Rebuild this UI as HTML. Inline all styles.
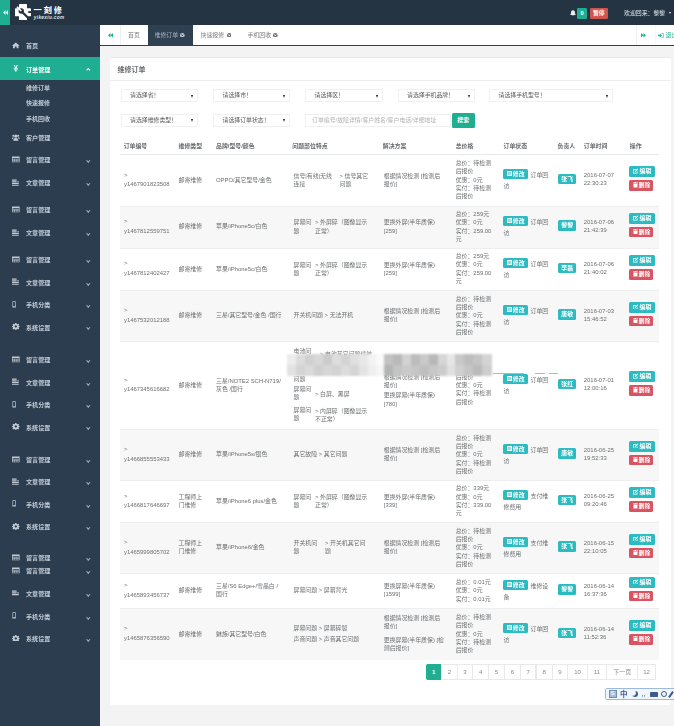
<!DOCTYPE html>
<html lang="zh"><head><meta charset="utf-8"><title>维修订单</title><style>
*{box-sizing:border-box;margin:0;padding:0}
html,body{width:674px;height:726px;overflow:hidden}
body{position:relative;background:#f3f3f4;font-family:"Liberation Sans","Noto Sans CJK SC",sans-serif;font-size:5.9px;line-height:8.35px;color:#6b6e70}
#wrap{position:absolute;left:0;top:0;width:674px;height:726px;overflow:hidden;filter:blur(0.35px)}
.abs{position:absolute}
#top{left:0;top:0;width:674px;height:25px;background:#243442}
#side{left:0;top:25px;width:100px;height:701px;background:#2b3d4f}
#tog{left:0;top:0;width:10px;height:24.5px;background:#1fae91}
#tabs{left:100px;top:25px;width:574px;height:20.5px;background:#fff;border-bottom:1px solid #2f4050}
#card{left:110px;top:57px;width:561px;height:648px;background:#fff;border-top:1px solid #e7eaec;border-radius:2px}
#ttl{left:117.5px;top:64.5px;font-size:7px;font-weight:bold;color:#676a6c;line-height:9px;white-space:nowrap}
#tline{left:110px;top:80px;width:561px;height:1px;background:#eceeef}
.sel{height:13.7px;border:1px solid #eff0f1;border-radius:1px;background:#fff;color:#5a5a5a;padding-left:8.5px;padding-top:0.6px;line-height:11.7px;white-space:nowrap;overflow:hidden}
.sel i{position:absolute;right:3.6px;top:4.9px;width:0;height:0;border-left:1.9px solid transparent;border-right:1.9px solid transparent;border-top:3px solid #222}
.mi{left:0;width:100px;height:23px;color:#c3cbd5;font-weight:bold;font-size:6.1px;line-height:23px;white-space:nowrap}
.mi span{position:absolute;left:26px;top:-0.1px}
.mi>svg{position:absolute;left:12.2px;top:7.6px;width:7.6px;height:6.8px;opacity:.85}
.mi b.ch{position:absolute;left:86.5px;top:10.8px;width:2.6px;height:2.6px;border-right:0.8px solid #aeb8c4;border-bottom:0.8px solid #aeb8c4;transform:rotate(45deg)}
.sub{left:26px;color:#c3cbd5;font-size:6px;font-weight:bold;line-height:8px;white-space:nowrap}
table{border-collapse:collapse}
.th{top:141.8px;font-weight:bold;color:#676a6c;white-space:nowrap}
.row{left:120px;width:539.4px}
.row.g{background:#f7f7f7}
.row{border-top:1px solid #eceeef}
.c{position:absolute;white-space:nowrap}
.btn{position:absolute;color:#fff;font-weight:bold;border-radius:1.5px;text-align:center;white-space:nowrap;line-height:10px;height:10.2px;font-size:5.9px}
.info{background:#2bbbc0}
.dang{background:#da5361}
.pg{top:664px;height:15.5px;border:1px solid #e9e9e9;background:#fff;color:#8a8a8a;text-align:center;line-height:14px;font-size:6px;white-space:nowrap}
</style></head><body>
<div id="wrap">
<div class="abs" id="top"></div>
<div class="abs" id="side"></div>
<div class="abs" id="tog"><svg class="abs" style="left:2.5px;top:10px" width="5" height="5" viewBox="0 0 10 10"><path d="M5 0 L0 5 L5 10 Z M10 0 L5 5 L10 10 Z" fill="#d8f3ec"/></svg></div>
<svg class="abs" style="left:15px;top:3.6px" width="16" height="16.5" viewBox="0 0 32 33"><path d="M9.5 0 H22.5 a1.5 1.5 0 0 1 1.5 1.5 V8.5 H30.5 a1.5 1.5 0 0 1 1.5 1.5 V23 a1.5 1.5 0 0 1 -1.5 1.5 H24 V31.5 a1.5 1.5 0 0 1 -1.5 1.5 H9.5 a1.5 1.5 0 0 1 -1.5 -1.5 V24.5 H1.5 a1.5 1.5 0 0 1 -1.5 -1.5 V10 a1.5 1.5 0 0 1 1.5 -1.5 H8 V1.5 a1.5 1.5 0 0 1 1.5 -1.5 Z" fill="#fff"/><circle cx="12.5" cy="14" r="5.4" fill="#243442"/><path d="M12.5 14 L24 25.5" stroke="#243442" stroke-width="4.6" stroke-linecap="round"/><path d="M12.5 14 L4 5.5" stroke="#fff" stroke-width="3.4"/><rect x="26.5" y="14.2" width="5.5" height="3.8" fill="#243442"/></svg>
<div class="abs lg" style="left:33.6px;top:5.6px;font-size:8.2px;font-weight:bold;color:#fff;letter-spacing:1.9px;line-height:9.5px;white-space:nowrap">一刻修</div>
<div class="abs" style="left:33.8px;top:14.6px;font-size:4.7px;font-weight:bold;font-style:italic;color:#dfe3e8;letter-spacing:0.35px;line-height:5px;white-space:nowrap">yikexiu.com</div>
<svg class="abs" style="left:569.5px;top:9.5px" width="6" height="6.5" viewBox="0 0 12 13"><path d="M6 0.5 C3 0.5 2 3 2 5.5 C2 8 1 9 0 10 H12 C11 9 10 8 10 5.5 C10 3 9 0.5 6 0.5 Z M4.5 11 a1.5 1.5 0 0 0 3 0 Z" fill="#e8ecf0"/></svg>
<div class="abs" style="left:577px;top:8px;width:10px;height:11px;background:#1fae91;border-radius:1.3px;color:#fff;font-weight:bold;font-size:5.6px;line-height:11px;text-align:center">0</div>
<div class="abs" style="left:589.6px;top:8px;width:18.5px;height:11px;background:#d15350;border-radius:1.3px;color:#fff;font-weight:bold;font-size:5.8px;line-height:11px;text-align:center;white-space:nowrap">暂停</div>
<div class="abs" style="left:624px;top:9px;color:#e6eaef;font-size:5.9px;line-height:9px;white-space:nowrap;width:44px;overflow:hidden">欢迎回来：黎黎</div>
<div class="abs" style="left:668.6px;top:12.4px;width:0;height:0;border-left:1.5px solid transparent;border-right:1.5px solid transparent;border-top:2px solid #e6eaef"></div>
<div class="abs" id="tabs"></div>
<svg class="abs" style="left:107.5px;top:33px" width="5" height="4.6" viewBox="0 0 10 9"><path d="M5 0 L0 4.5 L5 9 Z M10 0 L5 4.5 L10 9 Z" fill="#1ab394"/></svg>
<div class="abs" style="left:119.5px;top:25px;width:1px;height:20px;background:#eef0f1"></div>
<div class="abs" style="left:128px;top:31px;color:#7a7d80;line-height:8px;white-space:nowrap;font-size:5.9px">首页</div>
<div class="abs" style="left:147.5px;top:25px;width:45.5px;height:20.5px;background:#2f4050"></div>
<div class="abs" style="left:154.5px;top:31px;color:#a7b1c2;line-height:8px;white-space:nowrap;font-size:5.9px;width:25px;overflow:hidden">维修订单</div>
<svg class="abs" style="left:180.4px;top:32.9px" width="4.6" height="4.6" viewBox="0 0 10 10"><circle cx="5" cy="5" r="5" fill="#c5ccd6"/><path d="M3 3 L7 7 M7 3 L3 7" stroke="#2f4050" stroke-width="1.7"/></svg>
<div class="abs" style="left:200.5px;top:31px;color:#7a7d80;line-height:8px;white-space:nowrap;font-size:5.9px;width:25px;overflow:hidden">快速报修</div>
<svg class="abs" style="left:226.6px;top:32.9px" width="4.6" height="4.6" viewBox="0 0 10 10"><circle cx="5" cy="5" r="5" fill="#6f6f6f"/><path d="M3 3 L7 7 M7 3 L3 7" stroke="#fff" stroke-width="1.7"/></svg>
<div class="abs" style="left:247.5px;top:31px;color:#7a7d80;line-height:8px;white-space:nowrap;font-size:5.9px;width:25px;overflow:hidden">手机回收</div>
<svg class="abs" style="left:273.3px;top:32.9px" width="4.6" height="4.6" viewBox="0 0 10 10"><circle cx="5" cy="5" r="5" fill="#6f6f6f"/><path d="M3 3 L7 7 M7 3 L3 7" stroke="#fff" stroke-width="1.7"/></svg>
<div class="abs" style="left:635.5px;top:25px;width:1px;height:20px;background:#eef0f1"></div>
<svg class="abs" style="left:640.5px;top:33px" width="5" height="4.6" viewBox="0 0 10 9"><path d="M0 0 L5 4.5 L0 9 Z M5 0 L10 4.5 L5 9 Z" fill="#1ab394"/></svg>
<div class="abs" style="left:654.5px;top:25px;width:1px;height:20px;background:#f6f7f8"></div>
<svg class="abs" style="left:658px;top:33px" width="5.5" height="5" viewBox="0 0 11 10"><path d="M0 3.5 H4 V1 L8 5 L4 9 V6.5 H0 Z M7 0 H11 V10 H7 V8.8 H9.8 V1.2 H7 Z" fill="#1ab394"/></svg>
<div class="abs" style="left:665.5px;top:31px;color:#1ab394;line-height:8px;white-space:nowrap;font-size:5.9px">退出</div>
<div class="abs mi" style="top:34.5px;"><svg viewBox="0 0 18 16"><path d="M9 1 L0 9 H2.5 V15 H7 V10.5 H11 V15 H15.5 V9 H18 Z" fill="#dfe4ea"/></svg><span>首页</span></div>
<div class="abs mi" style="top:57.2px;background:#1fae91;color:#fff;"><svg viewBox="0 0 18 16"><path d="M4 0 H7 L9 5 L11 0 H14 L11 7 H14 V9 H10.5 V10.5 H14 V12.5 H10.5 V16 H7.5 V12.5 H4 V10.5 H7.5 V9 H4 V7 H7 Z" fill="#fff"/></svg><span style="top:0.5px">订单管理</span><b class="ch" style="transform:rotate(-135deg);top:11.5px;border-color:#fff"></b></div>
<div class="abs sub" style="top:84.0px">维修订单</div>
<div class="abs sub" style="top:99.4px">快速报修</div>
<div class="abs sub" style="top:115.0px">手机回收</div>
<div class="abs mi" style="top:126.5px;"><svg viewBox="0 0 18 16"><circle cx="9" cy="5" r="3.6" fill="#dfe4ea"/><circle cx="3.2" cy="4" r="2.4" fill="#dfe4ea"/><circle cx="14.8" cy="4" r="2.4" fill="#dfe4ea"/><path d="M3 16 C3 11 5 9.5 9 9.5 C13 9.5 15 11 15 16 Z M0 12 C0 8 1.5 7 4 7.5 C3 9 2.5 10 2.5 12 Z M18 12 C18 8 16.5 7 14 7.5 C15 9 15.5 10 15.5 12 Z" fill="#dfe4ea"/></svg><span>客户管理</span></div>
<div class="abs mi" style="top:148.5px;"><svg viewBox="0 0 18 16"><path d="M0 1 H18 V15 H0 Z M1.5 5 V7.5 H16.5 V5 Z M1.5 9 V10.8 H5.5 V9 Z M7 9 V10.8 H11 V9 Z M12.5 9 V10.8 H16.5 V9 Z M1.5 12 V13.5 H5.5 V12 Z M7 12 V13.5 H11 V12 Z M12.5 12 V13.5 H16.5 V12 Z" fill="#dfe4ea" fill-rule="evenodd"/></svg><span>留言管理</span><b class="ch"></b></div>
<div class="abs mi" style="top:171.2px;"><svg viewBox="0 0 18 16"><path d="M0 1 H11 V4 H0 Z M0 5.5 H11 V8 H0 Z M0 9.5 H16 V12 H0 Z M0 13.5 H16 V16 H0 Z M12.5 5.5 H16 V8 H12.5 Z" fill="#dfe4ea"/></svg><span>文章管理</span><b class="ch"></b></div>
<div class="abs mi" style="top:198.5px;"><svg viewBox="0 0 18 16"><path d="M0 1 H18 V15 H0 Z M1.5 5 V7.5 H16.5 V5 Z M1.5 9 V10.8 H5.5 V9 Z M7 9 V10.8 H11 V9 Z M12.5 9 V10.8 H16.5 V9 Z M1.5 12 V13.5 H5.5 V12 Z M7 12 V13.5 H11 V12 Z M12.5 12 V13.5 H16.5 V12 Z" fill="#dfe4ea" fill-rule="evenodd"/></svg><span>留言管理</span><b class="ch"></b></div>
<div class="abs mi" style="top:221.5px;"><svg viewBox="0 0 18 16"><path d="M0 1 H11 V4 H0 Z M0 5.5 H11 V8 H0 Z M0 9.5 H16 V12 H0 Z M0 13.5 H16 V16 H0 Z M12.5 5.5 H16 V8 H12.5 Z" fill="#dfe4ea"/></svg><span>文章管理</span><b class="ch"></b></div>
<div class="abs mi" style="top:248.5px;"><svg viewBox="0 0 18 16"><path d="M0 1 H18 V15 H0 Z M1.5 5 V7.5 H16.5 V5 Z M1.5 9 V10.8 H5.5 V9 Z M7 9 V10.8 H11 V9 Z M12.5 9 V10.8 H16.5 V9 Z M1.5 12 V13.5 H5.5 V12 Z M7 12 V13.5 H11 V12 Z M12.5 12 V13.5 H16.5 V12 Z" fill="#dfe4ea" fill-rule="evenodd"/></svg><span>留言管理</span><b class="ch"></b></div>
<div class="abs mi" style="top:270.9px;"><svg viewBox="0 0 18 16"><path d="M0 1 H11 V4 H0 Z M0 5.5 H11 V8 H0 Z M0 9.5 H16 V12 H0 Z M0 13.5 H16 V16 H0 Z M12.5 5.5 H16 V8 H12.5 Z" fill="#dfe4ea"/></svg><span>文章管理</span><b class="ch"></b></div>
<div class="abs mi" style="top:293.3px;"><svg viewBox="0 0 18 16"><path d="M2 0.5 H8 a1 1 0 0 1 1 1 V14.5 a1 1 0 0 1 -1 1 H2 a1 1 0 0 1 -1 -1 V1.5 a1 1 0 0 1 1 -1 Z M2.6 2.5 V12.5 H7.4 V2.5 Z" fill="#dfe4ea" fill-rule="evenodd"/></svg><span>手机分类</span><b class="ch"></b></div>
<div class="abs mi" style="top:315.7px;"><svg viewBox="0 0 18 16"><path d="M7.5 0 H10.5 L11 2.2 L12.8 3 L14.8 1.8 L16.8 4 L15.5 5.8 L16 7 L18 7.5 V9.5 L16 10 L15.5 11.2 L16.8 13 L14.8 15.2 L12.8 14 L11 14.8 L10.5 16 H7.5 L7 14.8 L5.2 14 L3.2 15.2 L1.2 13 L2.5 11.2 L2 10 L0 9.5 V7.5 L2 7 L2.5 5.8 L1.2 4 L3.2 1.8 L5.2 3 L7 2.2 Z M9 5.2 a2.8 2.8 0 1 0 0.01 0 Z" fill="#dfe4ea" fill-rule="evenodd"/></svg><span>系统设置</span><b class="ch"></b></div>
<div class="abs mi" style="top:348.5px;"><svg viewBox="0 0 18 16"><path d="M0 1 H18 V15 H0 Z M1.5 5 V7.5 H16.5 V5 Z M1.5 9 V10.8 H5.5 V9 Z M7 9 V10.8 H11 V9 Z M12.5 9 V10.8 H16.5 V9 Z M1.5 12 V13.5 H5.5 V12 Z M7 12 V13.5 H11 V12 Z M12.5 12 V13.5 H16.5 V12 Z" fill="#dfe4ea" fill-rule="evenodd"/></svg><span>留言管理</span><b class="ch"></b></div>
<div class="abs mi" style="top:370.9px;"><svg viewBox="0 0 18 16"><path d="M0 1 H11 V4 H0 Z M0 5.5 H11 V8 H0 Z M0 9.5 H16 V12 H0 Z M0 13.5 H16 V16 H0 Z M12.5 5.5 H16 V8 H12.5 Z" fill="#dfe4ea"/></svg><span>文章管理</span><b class="ch"></b></div>
<div class="abs mi" style="top:393.3px;"><svg viewBox="0 0 18 16"><path d="M2 0.5 H8 a1 1 0 0 1 1 1 V14.5 a1 1 0 0 1 -1 1 H2 a1 1 0 0 1 -1 -1 V1.5 a1 1 0 0 1 1 -1 Z M2.6 2.5 V12.5 H7.4 V2.5 Z" fill="#dfe4ea" fill-rule="evenodd"/></svg><span>手机分类</span><b class="ch"></b></div>
<div class="abs mi" style="top:415.7px;"><svg viewBox="0 0 18 16"><path d="M7.5 0 H10.5 L11 2.2 L12.8 3 L14.8 1.8 L16.8 4 L15.5 5.8 L16 7 L18 7.5 V9.5 L16 10 L15.5 11.2 L16.8 13 L14.8 15.2 L12.8 14 L11 14.8 L10.5 16 H7.5 L7 14.8 L5.2 14 L3.2 15.2 L1.2 13 L2.5 11.2 L2 10 L0 9.5 V7.5 L2 7 L2.5 5.8 L1.2 4 L3.2 1.8 L5.2 3 L7 2.2 Z M9 5.2 a2.8 2.8 0 1 0 0.01 0 Z" fill="#dfe4ea" fill-rule="evenodd"/></svg><span>系统设置</span><b class="ch"></b></div>
<div class="abs mi" style="top:448.2px;"><svg viewBox="0 0 18 16"><path d="M0 1 H18 V15 H0 Z M1.5 5 V7.5 H16.5 V5 Z M1.5 9 V10.8 H5.5 V9 Z M7 9 V10.8 H11 V9 Z M12.5 9 V10.8 H16.5 V9 Z M1.5 12 V13.5 H5.5 V12 Z M7 12 V13.5 H11 V12 Z M12.5 12 V13.5 H16.5 V12 Z" fill="#dfe4ea" fill-rule="evenodd"/></svg><span>留言管理</span><b class="ch"></b></div>
<div class="abs mi" style="top:470.5px;"><svg viewBox="0 0 18 16"><path d="M0 1 H11 V4 H0 Z M0 5.5 H11 V8 H0 Z M0 9.5 H16 V12 H0 Z M0 13.5 H16 V16 H0 Z M12.5 5.5 H16 V8 H12.5 Z" fill="#dfe4ea"/></svg><span>文章管理</span><b class="ch"></b></div>
<div class="abs mi" style="top:492.9px;"><svg viewBox="0 0 18 16"><path d="M2 0.5 H8 a1 1 0 0 1 1 1 V14.5 a1 1 0 0 1 -1 1 H2 a1 1 0 0 1 -1 -1 V1.5 a1 1 0 0 1 1 -1 Z M2.6 2.5 V12.5 H7.4 V2.5 Z" fill="#dfe4ea" fill-rule="evenodd"/></svg><span>手机分类</span><b class="ch"></b></div>
<div class="abs mi" style="top:515.3px;"><svg viewBox="0 0 18 16"><path d="M7.5 0 H10.5 L11 2.2 L12.8 3 L14.8 1.8 L16.8 4 L15.5 5.8 L16 7 L18 7.5 V9.5 L16 10 L15.5 11.2 L16.8 13 L14.8 15.2 L12.8 14 L11 14.8 L10.5 16 H7.5 L7 14.8 L5.2 14 L3.2 15.2 L1.2 13 L2.5 11.2 L2 10 L0 9.5 V7.5 L2 7 L2.5 5.8 L1.2 4 L3.2 1.8 L5.2 3 L7 2.2 Z M9 5.2 a2.8 2.8 0 1 0 0.01 0 Z" fill="#dfe4ea" fill-rule="evenodd"/></svg><span>系统设置</span><b class="ch"></b></div>
<div class="abs mi" style="top:559.3px;"><svg viewBox="0 0 18 16"><path d="M0 1 H18 V15 H0 Z M1.5 5 V7.5 H16.5 V5 Z M1.5 9 V10.8 H5.5 V9 Z M7 9 V10.8 H11 V9 Z M12.5 9 V10.8 H16.5 V9 Z M1.5 12 V13.5 H5.5 V12 Z M7 12 V13.5 H11 V12 Z M12.5 12 V13.5 H16.5 V12 Z" fill="#dfe4ea" fill-rule="evenodd"/></svg><span>留言管理</span><b class="ch"></b></div>
<div class="abs mi" style="top:582.1px;"><svg viewBox="0 0 18 16"><path d="M0 1 H11 V4 H0 Z M0 5.5 H11 V8 H0 Z M0 9.5 H16 V12 H0 Z M0 13.5 H16 V16 H0 Z M12.5 5.5 H16 V8 H12.5 Z" fill="#dfe4ea"/></svg><span>文章管理</span><b class="ch"></b></div>
<div class="abs mi" style="top:604.8px;"><svg viewBox="0 0 18 16"><path d="M2 0.5 H8 a1 1 0 0 1 1 1 V14.5 a1 1 0 0 1 -1 1 H2 a1 1 0 0 1 -1 -1 V1.5 a1 1 0 0 1 1 -1 Z M2.6 2.5 V12.5 H7.4 V2.5 Z" fill="#dfe4ea" fill-rule="evenodd"/></svg><span>手机分类</span><b class="ch"></b></div>
<div class="abs mi" style="top:627.1px;"><svg viewBox="0 0 18 16"><path d="M7.5 0 H10.5 L11 2.2 L12.8 3 L14.8 1.8 L16.8 4 L15.5 5.8 L16 7 L18 7.5 V9.5 L16 10 L15.5 11.2 L16.8 13 L14.8 15.2 L12.8 14 L11 14.8 L10.5 16 H7.5 L7 14.8 L5.2 14 L3.2 15.2 L1.2 13 L2.5 11.2 L2 10 L0 9.5 V7.5 L2 7 L2.5 5.8 L1.2 4 L3.2 1.8 L5.2 3 L7 2.2 Z M9 5.2 a2.8 2.8 0 1 0 0.01 0 Z" fill="#dfe4ea" fill-rule="evenodd"/></svg><span>系统设置</span><b class="ch"></b></div>
<div class="abs" style="left:0;top:553px;width:100px;height:8.5px;overflow:hidden"><div class="abs mi" style="top:-6.5px"><svg viewBox="0 0 18 16"><path d="M0 1 H18 V15 H0 Z M1.5 5 V7.5 H16.5 V5 Z M1.5 9 V10.8 H5.5 V9 Z M7 9 V10.8 H11 V9 Z M12.5 9 V10.8 H16.5 V9 Z M1.5 12 V13.5 H5.5 V12 Z M7 12 V13.5 H11 V12 Z M12.5 12 V13.5 H16.5 V12 Z" fill="#dfe4ea" fill-rule="evenodd"/></svg><span>留言管理</span><b class="ch"></b></div></div>
<div class="abs" id="card"></div>
<div class="abs" id="ttl">维修订单</div>
<div class="abs" id="tline"></div>
<div class="abs sel" style="left:120.5px;top:88.8px;width:77.0px">请选择省！<i></i></div>
<div class="abs sel" style="left:213.0px;top:88.8px;width:77.0px">请选择市！<i></i></div>
<div class="abs sel" style="left:305.0px;top:88.8px;width:77.5px">请选择区！<i></i></div>
<div class="abs sel" style="left:397.5px;top:88.8px;width:77.5px">请选择手机品牌！<i></i></div>
<div class="abs sel" style="left:489.0px;top:88.8px;width:124.0px">请选择手机型号！<i></i></div>
<div class="abs sel" style="left:120.5px;top:113.6px;width:77.0px">请选择维修类型！<i></i></div>
<div class="abs sel" style="left:213.0px;top:113.6px;width:77.0px">请选择订单状态！<i></i></div>
<div class="abs" style="left:305px;top:113.6px;width:146px;height:13.7px;border:1px solid #eff0f1;color:#b3b3b3;padding-left:6px;padding-top:0.6px;line-height:11.7px;white-space:nowrap;overflow:hidden">订单编号/故障详情/客户姓名/客户电话/详细地址</div>
<div class="abs" style="left:452px;top:113.2px;width:22.5px;height:14.4px;background:#1fae91;border-radius:1.5px;color:#fff;font-weight:bold;text-align:center;line-height:14.4px;white-space:nowrap">搜索</div>
<div class="abs th" style="left:123.7px">订单编号</div>
<div class="abs th" style="left:178.6px">维修类型</div>
<div class="abs th" style="left:216.0px">品牌/型号/颜色</div>
<div class="abs th" style="left:292.3px">问题部位特点</div>
<div class="abs th" style="left:382.8px">解决方案</div>
<div class="abs th" style="left:455.7px">总价格</div>
<div class="abs th" style="left:503.5px">订单状态</div>
<div class="abs th" style="left:557.6px">负责人</div>
<div class="abs th" style="left:583.8px">订单时间</div>
<div class="abs th" style="left:629.8px">操作</div>
<div class="abs" style="left:120px;top:153.6px;width:539.4px;height:1px;background:#e6e8ea"></div>
<div class="abs row" style="top:154.5px;height:51.0px;border-top:0"></div>
<div class="abs c" style="left:124.0px;top:170.62px;">&gt;</div>
<div class="abs c" style="left:124.0px;top:180.42px;">y1467901823508</div>
<div class="abs c" style="left:178.6px;top:175.82px;">邮寄维修</div>
<div class="abs c" style="left:216.0px;top:175.82px;">OPPO/其它型号/金色</div>
<div class="abs c" style="left:293.5px;top:171.65px;">信号|有线|无线<br>连接</div>
<div class="abs c" style="left:339.5px;top:171.65px;">&gt; 信号其它<br>问题</div>
<div class="abs c" style="left:383.8px;top:171.65px;">根据情况检测 [检测后<br>报价]</div>
<div class="abs c" style="left:455.7px;top:159.12px;">总价：待检测<br>后报价<br>优惠：0元<br>实付：待检测<br>后报价</div>
<div class="btn info" style="left:503.2px;top:169.1px;width:25px"><svg style="display:inline-block;vertical-align:-0.4px;margin-right:1px" width="5" height="5" viewBox="0 0 10 10"><path d="M0 0 H10 V10 H0 Z M1.3 3 V4.4 H8.7 V3 Z M1.3 5.6 V7 H8.7 V5.6 Z" fill="#fff" fill-rule="evenodd"/></svg>修改</div>
<div class="abs c" style="left:530.5px;top:171.1px">订单回</div>
<div class="abs c" style="left:503.5px;top:182.3px">访</div>
<div class="btn info" style="left:558.2px;top:173.8px;width:18px;height:10.6px;line-height:10.4px">张飞</div>
<div class="abs c" style="left:583.8px;top:171.15px;">2016-07-07<br>22:30:23</div>
<div class="btn info" style="left:629.4px;top:166.4px;width:25.6px;height:10.8px;line-height:10.6px"><svg style="display:inline-block;vertical-align:-0.5px;margin-right:1px" width="5.5" height="5.5" viewBox="0 0 11 11"><path d="M0 2 H6 V3.3 H1.3 V9.7 H7.7 V6.5 H9 V11 H0 Z M4 6 L9 1 L10.5 2.5 L5.5 7.5 L3.6 7.9 Z" fill="#fff"/></svg>编辑</div>
<div class="btn dang" style="left:629.4px;top:180.1px;width:24px;height:10.8px;line-height:10.6px"><svg style="display:inline-block;vertical-align:-0.5px;margin-right:1px" width="5" height="5.5" viewBox="0 0 10 11"><path d="M3.5 0 H6.5 V1.2 H10 V2.6 H0 V1.2 H3.5 Z M1 3.5 H9 V11 H1 Z" fill="#fff"/></svg>删除</div>
<div class="abs row g" style="top:205.5px;height:42.2px"></div>
<div class="abs c" style="left:124.0px;top:217.22px;">&gt;</div>
<div class="abs c" style="left:124.0px;top:227.02px;">y1467812559751</div>
<div class="abs c" style="left:178.6px;top:222.42px;">邮寄维修</div>
<div class="abs c" style="left:216.0px;top:222.42px;">苹果/iPhone5c/白色</div>
<div class="abs c" style="left:293.5px;top:218.25px;">屏幕问<br>题</div>
<div class="abs c" style="left:315.0px;top:218.25px;">&gt; 外屏碎（图像显示<br>正常）</div>
<div class="abs c" style="left:383.8px;top:218.25px;">更换外屏(半年质保)<br>[259]</div>
<div class="abs c" style="left:455.7px;top:209.90px;">总价：259元<br>优惠：0元<br>实付：259.00<br>元</div>
<div class="btn info" style="left:503.2px;top:215.7px;width:25px"><svg style="display:inline-block;vertical-align:-0.4px;margin-right:1px" width="5" height="5" viewBox="0 0 10 10"><path d="M0 0 H10 V10 H0 Z M1.3 3 V4.4 H8.7 V3 Z M1.3 5.6 V7 H8.7 V5.6 Z" fill="#fff" fill-rule="evenodd"/></svg>修改</div>
<div class="abs c" style="left:530.5px;top:217.7px">订单回</div>
<div class="abs c" style="left:503.5px;top:228.9px">访</div>
<div class="btn info" style="left:558.2px;top:220.4px;width:18px;height:10.6px;line-height:10.4px">黎黎</div>
<div class="abs c" style="left:583.8px;top:217.75px;">2016-07-06<br>21:42:39</div>
<div class="btn info" style="left:629.4px;top:213.0px;width:25.6px;height:10.8px;line-height:10.6px"><svg style="display:inline-block;vertical-align:-0.5px;margin-right:1px" width="5.5" height="5.5" viewBox="0 0 11 11"><path d="M0 2 H6 V3.3 H1.3 V9.7 H7.7 V6.5 H9 V11 H0 Z M4 6 L9 1 L10.5 2.5 L5.5 7.5 L3.6 7.9 Z" fill="#fff"/></svg>编辑</div>
<div class="btn dang" style="left:629.4px;top:226.7px;width:24px;height:10.8px;line-height:10.6px"><svg style="display:inline-block;vertical-align:-0.5px;margin-right:1px" width="5" height="5.5" viewBox="0 0 10 11"><path d="M3.5 0 H6.5 V1.2 H10 V2.6 H0 V1.2 H3.5 Z M1 3.5 H9 V11 H1 Z" fill="#fff"/></svg>删除</div>
<div class="abs row" style="top:247.7px;height:42.3px"></div>
<div class="abs c" style="left:124.0px;top:259.48px;">&gt;</div>
<div class="abs c" style="left:124.0px;top:269.28px;">y1467812402427</div>
<div class="abs c" style="left:178.6px;top:264.68px;">邮寄维修</div>
<div class="abs c" style="left:216.0px;top:264.68px;">苹果/iPhone5c/白色</div>
<div class="abs c" style="left:293.5px;top:260.50px;">屏幕问<br>题</div>
<div class="abs c" style="left:315.0px;top:260.50px;">&gt; 外屏碎（图像显示<br>正常）</div>
<div class="abs c" style="left:383.8px;top:260.50px;">更换外屏(半年质保)<br>[259]</div>
<div class="abs c" style="left:455.7px;top:252.15px;">总价：259元<br>优惠：0元<br>实付：259.00<br>元</div>
<div class="btn info" style="left:503.2px;top:258.0px;width:25px"><svg style="display:inline-block;vertical-align:-0.4px;margin-right:1px" width="5" height="5" viewBox="0 0 10 10"><path d="M0 0 H10 V10 H0 Z M1.3 3 V4.4 H8.7 V3 Z M1.3 5.6 V7 H8.7 V5.6 Z" fill="#fff" fill-rule="evenodd"/></svg>修改</div>
<div class="abs c" style="left:530.5px;top:260.0px">订单回</div>
<div class="abs c" style="left:503.5px;top:271.2px">访</div>
<div class="btn info" style="left:558.2px;top:262.7px;width:18px;height:10.6px;line-height:10.4px">李磊</div>
<div class="abs c" style="left:583.8px;top:260.00px;">2016-07-06<br>21:40:02</div>
<div class="btn info" style="left:629.4px;top:255.3px;width:25.6px;height:10.8px;line-height:10.6px"><svg style="display:inline-block;vertical-align:-0.5px;margin-right:1px" width="5.5" height="5.5" viewBox="0 0 11 11"><path d="M0 2 H6 V3.3 H1.3 V9.7 H7.7 V6.5 H9 V11 H0 Z M4 6 L9 1 L10.5 2.5 L5.5 7.5 L3.6 7.9 Z" fill="#fff"/></svg>编辑</div>
<div class="btn dang" style="left:629.4px;top:269.0px;width:24px;height:10.8px;line-height:10.6px"><svg style="display:inline-block;vertical-align:-0.5px;margin-right:1px" width="5" height="5.5" viewBox="0 0 10 11"><path d="M3.5 0 H6.5 V1.2 H10 V2.6 H0 V1.2 H3.5 Z M1 3.5 H9 V11 H1 Z" fill="#fff"/></svg>删除</div>
<div class="abs row g" style="top:290.0px;height:51.0px"></div>
<div class="abs c" style="left:124.0px;top:306.12px;">&gt;</div>
<div class="abs c" style="left:124.0px;top:315.93px;">y1467532012188</div>
<div class="abs c" style="left:178.6px;top:311.32px;">邮寄维修</div>
<div class="abs c" style="left:216.0px;top:311.32px;">三星/其它型号/金色 /国行</div>
<div class="abs c" style="left:293.5px;top:311.32px;">开关机问题 &gt; 无法开机</div>
<div class="abs c" style="left:383.8px;top:307.15px;">根据情况检测 [检测后<br>报价]</div>
<div class="abs c" style="left:455.7px;top:294.62px;">总价：待检测<br>后报价<br>优惠：0元<br>实付：待检测<br>后报价</div>
<div class="btn info" style="left:503.2px;top:304.6px;width:25px"><svg style="display:inline-block;vertical-align:-0.4px;margin-right:1px" width="5" height="5" viewBox="0 0 10 10"><path d="M0 0 H10 V10 H0 Z M1.3 3 V4.4 H8.7 V3 Z M1.3 5.6 V7 H8.7 V5.6 Z" fill="#fff" fill-rule="evenodd"/></svg>修改</div>
<div class="abs c" style="left:530.5px;top:306.6px">订单回</div>
<div class="abs c" style="left:503.5px;top:317.8px">访</div>
<div class="btn info" style="left:558.2px;top:309.3px;width:18px;height:10.6px;line-height:10.4px">唐敏</div>
<div class="abs c" style="left:583.8px;top:306.65px;">2016-07-03<br>15:46:52</div>
<div class="btn info" style="left:629.4px;top:301.9px;width:25.6px;height:10.8px;line-height:10.6px"><svg style="display:inline-block;vertical-align:-0.5px;margin-right:1px" width="5.5" height="5.5" viewBox="0 0 11 11"><path d="M0 2 H6 V3.3 H1.3 V9.7 H7.7 V6.5 H9 V11 H0 Z M4 6 L9 1 L10.5 2.5 L5.5 7.5 L3.6 7.9 Z" fill="#fff"/></svg>编辑</div>
<div class="btn dang" style="left:629.4px;top:315.6px;width:24px;height:10.8px;line-height:10.6px"><svg style="display:inline-block;vertical-align:-0.5px;margin-right:1px" width="5" height="5.5" viewBox="0 0 10 11"><path d="M3.5 0 H6.5 V1.2 H10 V2.6 H0 V1.2 H3.5 Z M1 3.5 H9 V11 H1 Z" fill="#fff"/></svg>删除</div>
<div class="abs row" style="top:341.0px;height:88.0px"></div>
<div class="abs c" style="left:124.0px;top:375.62px;">&gt;</div>
<div class="abs c" style="left:124.0px;top:385.43px;">y1467345616682</div>
<div class="abs c" style="left:178.6px;top:380.82px;">邮寄维修</div>
<div class="abs c" style="left:216.0px;top:376.65px;">三星/NOTE2 SCH-N719/<br>灰色 /国行</div>
<div class="btn info" style="left:503.2px;top:374.1px;width:25px"><svg style="display:inline-block;vertical-align:-0.4px;margin-right:1px" width="5" height="5" viewBox="0 0 10 10"><path d="M0 0 H10 V10 H0 Z M1.3 3 V4.4 H8.7 V3 Z M1.3 5.6 V7 H8.7 V5.6 Z" fill="#fff" fill-rule="evenodd"/></svg>修改</div>
<div class="abs c" style="left:530.5px;top:376.1px">订单回</div>
<div class="abs c" style="left:503.5px;top:387.3px">访</div>
<div class="btn info" style="left:558.2px;top:378.8px;width:18px;height:10.6px;line-height:10.4px">张红</div>
<div class="abs c" style="left:583.8px;top:376.15px;">2016-07-01<br>12:00:16</div>
<div class="btn info" style="left:629.4px;top:371.4px;width:25.6px;height:10.8px;line-height:10.6px"><svg style="display:inline-block;vertical-align:-0.5px;margin-right:1px" width="5.5" height="5.5" viewBox="0 0 11 11"><path d="M0 2 H6 V3.3 H1.3 V9.7 H7.7 V6.5 H9 V11 H0 Z M4 6 L9 1 L10.5 2.5 L5.5 7.5 L3.6 7.9 Z" fill="#fff"/></svg>编辑</div>
<div class="btn dang" style="left:629.4px;top:385.1px;width:24px;height:10.8px;line-height:10.6px"><svg style="display:inline-block;vertical-align:-0.5px;margin-right:1px" width="5" height="5.5" viewBox="0 0 10 11"><path d="M3.5 0 H6.5 V1.2 H10 V2.6 H0 V1.2 H3.5 Z M1 3.5 H9 V11 H1 Z" fill="#fff"/></svg>删除</div>
<div class="abs row g" style="top:429.0px;height:51.0px"></div>
<div class="abs c" style="left:124.0px;top:445.12px;">&gt;</div>
<div class="abs c" style="left:124.0px;top:454.93px;">y1466855553433</div>
<div class="abs c" style="left:178.6px;top:450.32px;">邮寄维修</div>
<div class="abs c" style="left:216.0px;top:450.32px;">苹果/iPhone5s/银色</div>
<div class="abs c" style="left:293.5px;top:450.32px;">其它故障 &gt; 其它问题</div>
<div class="abs c" style="left:383.8px;top:446.15px;">根据情况检测 [检测后<br>报价]</div>
<div class="abs c" style="left:455.7px;top:433.62px;">总价：待检测<br>后报价<br>优惠：0元<br>实付：待检测<br>后报价</div>
<div class="btn info" style="left:503.2px;top:443.6px;width:25px"><svg style="display:inline-block;vertical-align:-0.4px;margin-right:1px" width="5" height="5" viewBox="0 0 10 10"><path d="M0 0 H10 V10 H0 Z M1.3 3 V4.4 H8.7 V3 Z M1.3 5.6 V7 H8.7 V5.6 Z" fill="#fff" fill-rule="evenodd"/></svg>修改</div>
<div class="abs c" style="left:530.5px;top:445.6px">订单回</div>
<div class="abs c" style="left:503.5px;top:456.8px">访</div>
<div class="btn info" style="left:558.2px;top:448.3px;width:18px;height:10.6px;line-height:10.4px">唐敏</div>
<div class="abs c" style="left:583.8px;top:445.65px;">2016-06-25<br>19:52:33</div>
<div class="btn info" style="left:629.4px;top:440.9px;width:25.6px;height:10.8px;line-height:10.6px"><svg style="display:inline-block;vertical-align:-0.5px;margin-right:1px" width="5.5" height="5.5" viewBox="0 0 11 11"><path d="M0 2 H6 V3.3 H1.3 V9.7 H7.7 V6.5 H9 V11 H0 Z M4 6 L9 1 L10.5 2.5 L5.5 7.5 L3.6 7.9 Z" fill="#fff"/></svg>编辑</div>
<div class="btn dang" style="left:629.4px;top:454.6px;width:24px;height:10.8px;line-height:10.6px"><svg style="display:inline-block;vertical-align:-0.5px;margin-right:1px" width="5" height="5.5" viewBox="0 0 10 11"><path d="M3.5 0 H6.5 V1.2 H10 V2.6 H0 V1.2 H3.5 Z M1 3.5 H9 V11 H1 Z" fill="#fff"/></svg>删除</div>
<div class="abs row" style="top:480.0px;height:42.0px"></div>
<div class="abs c" style="left:124.0px;top:491.62px;">&gt;</div>
<div class="abs c" style="left:124.0px;top:501.43px;">y1466817646697</div>
<div class="abs c" style="left:178.6px;top:492.65px;">工程师上<br>门维修</div>
<div class="abs c" style="left:216.0px;top:496.82px;">苹果/iPhone6 plus/金色</div>
<div class="abs c" style="left:293.5px;top:492.65px;">屏幕问<br>题</div>
<div class="abs c" style="left:315.0px;top:492.65px;">&gt; 外屏碎（图像显示<br>正常）</div>
<div class="abs c" style="left:383.8px;top:492.65px;">更换外屏(半年质保)<br>[339]</div>
<div class="abs c" style="left:455.7px;top:484.30px;">总价：339元<br>优惠：0元<br>实付：339.00<br>元</div>
<div class="btn info" style="left:503.2px;top:490.1px;width:25px"><svg style="display:inline-block;vertical-align:-0.4px;margin-right:1px" width="5" height="5" viewBox="0 0 10 10"><path d="M0 0 H10 V10 H0 Z M1.3 3 V4.4 H8.7 V3 Z M1.3 5.6 V7 H8.7 V5.6 Z" fill="#fff" fill-rule="evenodd"/></svg>修改</div>
<div class="abs c" style="left:530.5px;top:492.1px">支付维</div>
<div class="abs c" style="left:503.5px;top:503.3px">修费用</div>
<div class="btn info" style="left:558.2px;top:494.8px;width:18px;height:10.6px;line-height:10.4px">张飞</div>
<div class="abs c" style="left:583.8px;top:492.15px;">2016-06-25<br>09:20:46</div>
<div class="btn info" style="left:629.4px;top:487.4px;width:25.6px;height:10.8px;line-height:10.6px"><svg style="display:inline-block;vertical-align:-0.5px;margin-right:1px" width="5.5" height="5.5" viewBox="0 0 11 11"><path d="M0 2 H6 V3.3 H1.3 V9.7 H7.7 V6.5 H9 V11 H0 Z M4 6 L9 1 L10.5 2.5 L5.5 7.5 L3.6 7.9 Z" fill="#fff"/></svg>编辑</div>
<div class="btn dang" style="left:629.4px;top:501.1px;width:24px;height:10.8px;line-height:10.6px"><svg style="display:inline-block;vertical-align:-0.5px;margin-right:1px" width="5" height="5.5" viewBox="0 0 10 11"><path d="M3.5 0 H6.5 V1.2 H10 V2.6 H0 V1.2 H3.5 Z M1 3.5 H9 V11 H1 Z" fill="#fff"/></svg>删除</div>
<div class="abs row g" style="top:522.0px;height:51.0px"></div>
<div class="abs c" style="left:124.0px;top:538.12px;">&gt;</div>
<div class="abs c" style="left:124.0px;top:547.93px;">y1465999805702</div>
<div class="abs c" style="left:178.6px;top:539.15px;">工程师上<br>门维修</div>
<div class="abs c" style="left:216.0px;top:543.33px;">苹果/iPhone6/金色</div>
<div class="abs c" style="left:293.5px;top:539.15px;">开关机问<br>题</div>
<div class="abs c" style="left:325.0px;top:539.15px;">&gt; 开关机其它问<br>题</div>
<div class="abs c" style="left:383.8px;top:539.15px;">根据情况检测 [检测后<br>报价]</div>
<div class="abs c" style="left:455.7px;top:526.62px;">总价：待检测<br>后报价<br>优惠：0元<br>实付：待检测<br>后报价</div>
<div class="btn info" style="left:503.2px;top:536.6px;width:25px"><svg style="display:inline-block;vertical-align:-0.4px;margin-right:1px" width="5" height="5" viewBox="0 0 10 10"><path d="M0 0 H10 V10 H0 Z M1.3 3 V4.4 H8.7 V3 Z M1.3 5.6 V7 H8.7 V5.6 Z" fill="#fff" fill-rule="evenodd"/></svg>修改</div>
<div class="abs c" style="left:530.5px;top:538.6px">支付维</div>
<div class="abs c" style="left:503.5px;top:549.8px">修费用</div>
<div class="btn info" style="left:558.2px;top:541.3px;width:18px;height:10.6px;line-height:10.4px">张飞</div>
<div class="abs c" style="left:583.8px;top:538.65px;">2016-06-15<br>22:10:05</div>
<div class="btn info" style="left:629.4px;top:533.9px;width:25.6px;height:10.8px;line-height:10.6px"><svg style="display:inline-block;vertical-align:-0.5px;margin-right:1px" width="5.5" height="5.5" viewBox="0 0 11 11"><path d="M0 2 H6 V3.3 H1.3 V9.7 H7.7 V6.5 H9 V11 H0 Z M4 6 L9 1 L10.5 2.5 L5.5 7.5 L3.6 7.9 Z" fill="#fff"/></svg>编辑</div>
<div class="btn dang" style="left:629.4px;top:547.6px;width:24px;height:10.8px;line-height:10.6px"><svg style="display:inline-block;vertical-align:-0.5px;margin-right:1px" width="5" height="5.5" viewBox="0 0 10 11"><path d="M3.5 0 H6.5 V1.2 H10 V2.6 H0 V1.2 H3.5 Z M1 3.5 H9 V11 H1 Z" fill="#fff"/></svg>删除</div>
<div class="abs row" style="top:573.0px;height:35.0px"></div>
<div class="abs c" style="left:124.0px;top:581.12px;">&gt;</div>
<div class="abs c" style="left:124.0px;top:590.93px;">y1465893456737</div>
<div class="abs c" style="left:178.6px;top:586.33px;">邮寄维修</div>
<div class="abs c" style="left:216.0px;top:582.15px;">三星/S6 Edge+/雪晶白 /<br>国行</div>
<div class="abs c" style="left:293.5px;top:586.33px;">屏幕问题 &gt; 屏幕背光</div>
<div class="abs c" style="left:383.8px;top:582.15px;">更换屏幕(半年质保)<br>[1599]</div>
<div class="abs c" style="left:455.7px;top:577.98px;">总价：0.01元<br>优惠：0元<br>实付：0.01元</div>
<div class="btn info" style="left:503.2px;top:579.6px;width:25px"><svg style="display:inline-block;vertical-align:-0.4px;margin-right:1px" width="5" height="5" viewBox="0 0 10 10"><path d="M0 0 H10 V10 H0 Z M1.3 3 V4.4 H8.7 V3 Z M1.3 5.6 V7 H8.7 V5.6 Z" fill="#fff" fill-rule="evenodd"/></svg>修改</div>
<div class="abs c" style="left:530.5px;top:581.6px">维修设</div>
<div class="abs c" style="left:503.5px;top:592.8px">备</div>
<div class="btn info" style="left:558.2px;top:584.3px;width:18px;height:10.6px;line-height:10.4px">黎黎</div>
<div class="abs c" style="left:583.8px;top:581.65px;">2016-06-14<br>16:37:36</div>
<div class="btn info" style="left:629.4px;top:576.9px;width:25.6px;height:10.8px;line-height:10.6px"><svg style="display:inline-block;vertical-align:-0.5px;margin-right:1px" width="5.5" height="5.5" viewBox="0 0 11 11"><path d="M0 2 H6 V3.3 H1.3 V9.7 H7.7 V6.5 H9 V11 H0 Z M4 6 L9 1 L10.5 2.5 L5.5 7.5 L3.6 7.9 Z" fill="#fff"/></svg>编辑</div>
<div class="btn dang" style="left:629.4px;top:590.6px;width:24px;height:10.8px;line-height:10.6px"><svg style="display:inline-block;vertical-align:-0.5px;margin-right:1px" width="5" height="5.5" viewBox="0 0 10 11"><path d="M3.5 0 H6.5 V1.2 H10 V2.6 H0 V1.2 H3.5 Z M1 3.5 H9 V11 H1 Z" fill="#fff"/></svg>删除</div>
<div class="abs row g" style="top:608.0px;height:51.5px"></div>
<div class="abs c" style="left:124.0px;top:624.38px;">&gt;</div>
<div class="abs c" style="left:124.0px;top:634.18px;">y1465876356590</div>
<div class="abs c" style="left:178.6px;top:629.58px;">邮寄维修</div>
<div class="abs c" style="left:216.0px;top:629.58px;">魅族/其它型号/白色</div>
<div class="abs c" style="left:293.5px;top:624.08px;">屏幕问题 &gt; 屏幕碎裂</div>
<div class="abs c" style="left:293.5px;top:635.08px;">声音问题 &gt; 声音其它问题</div>
<div class="abs c" style="left:383.8px;top:625.40px;margin-top:-11.5px">根据情况检测 [检测后<br>报价]</div>
<div class="abs c" style="left:383.8px;top:625.40px;margin-top:10.5px">更换屏幕(半年质保) [检<br>测后报价]</div>
<div class="abs c" style="left:455.7px;top:612.88px;">总价：待检测<br>后报价<br>优惠：0元<br>实付：待检测<br>后报价</div>
<div class="btn info" style="left:503.2px;top:622.9px;width:25px"><svg style="display:inline-block;vertical-align:-0.4px;margin-right:1px" width="5" height="5" viewBox="0 0 10 10"><path d="M0 0 H10 V10 H0 Z M1.3 3 V4.4 H8.7 V3 Z M1.3 5.6 V7 H8.7 V5.6 Z" fill="#fff" fill-rule="evenodd"/></svg>修改</div>
<div class="abs c" style="left:530.5px;top:624.9px">订单回</div>
<div class="abs c" style="left:503.5px;top:636.0px">访</div>
<div class="btn info" style="left:558.2px;top:627.5px;width:18px;height:10.6px;line-height:10.4px">张飞</div>
<div class="abs c" style="left:583.8px;top:624.90px;">2016-06-14<br>11:52:36</div>
<div class="btn info" style="left:629.4px;top:620.1px;width:25.6px;height:10.8px;line-height:10.6px"><svg style="display:inline-block;vertical-align:-0.5px;margin-right:1px" width="5.5" height="5.5" viewBox="0 0 11 11"><path d="M0 2 H6 V3.3 H1.3 V9.7 H7.7 V6.5 H9 V11 H0 Z M4 6 L9 1 L10.5 2.5 L5.5 7.5 L3.6 7.9 Z" fill="#fff"/></svg>编辑</div>
<div class="btn dang" style="left:629.4px;top:633.9px;width:24px;height:10.8px;line-height:10.6px"><svg style="display:inline-block;vertical-align:-0.5px;margin-right:1px" width="5" height="5.5" viewBox="0 0 10 11"><path d="M3.5 0 H6.5 V1.2 H10 V2.6 H0 V1.2 H3.5 Z M1 3.5 H9 V11 H1 Z" fill="#fff"/></svg>删除</div>
<div class="abs c" style="left:293.5px;top:346.52px">电池问</div>
<div class="abs c" style="left:293.5px;top:354.82px">题</div>
<div class="abs c" style="left:320.0px;top:350.12px">&gt; 电池其它问题续航</div>
<div class="abs c" style="left:293.5px;top:366.43px">开关机</div>
<div class="abs c" style="left:293.5px;top:374.82px">问题</div>
<div class="abs c" style="left:318.0px;top:363.82px">&gt; 开关机其它问题无法</div>
<div class="abs c" style="left:293.5px;top:385.02px">屏幕问</div>
<div class="abs c" style="left:293.5px;top:393.32px">题</div>
<div class="abs c" style="left:315.0px;top:389.82px">&gt; 白屏、黑屏</div>
<div class="abs c" style="left:293.5px;top:405.62px">屏幕问</div>
<div class="abs c" style="left:293.5px;top:414.02px">题</div>
<div class="abs c" style="left:315.0px;top:406.62px">&gt; 内屏碎（图像显示</div>
<div class="abs c" style="left:315.0px;top:414.93px">不正常）</div>
<div class="abs c" style="left:383.8px;top:356.32px">更换电池(半年质保) [200]</div>
<div class="abs c" style="left:383.8px;top:364.62px">根据情况检测 [检测后</div>
<div class="abs c" style="left:383.8px;top:373.02px">根据情况检测 [检测后</div>
<div class="abs c" style="left:383.8px;top:381.32px">报价]</div>
<div class="abs c" style="left:383.8px;top:390.62px">更换屏幕(半年质保)</div>
<div class="abs c" style="left:383.8px;top:400.02px">[780]</div>
<div class="abs c" style="left:455.7px;top:356.12px">总价：待检测</div>
<div class="abs c" style="left:455.7px;top:364.43px">后报价</div>
<div class="abs c" style="left:455.7px;top:372.82px">后报价</div>
<div class="abs c" style="left:455.7px;top:381.12px">优惠：0元</div>
<div class="abs c" style="left:455.7px;top:389.43px">实付：待检测</div>
<div class="abs c" style="left:455.7px;top:397.82px">后报价</div>
<div class="abs" style="left:286px;top:352.6px;width:207px;height:24.6px;overflow:hidden;filter:blur(0.9px)"><div class="abs" style="left:1px;top:1.5px;width:205px;height:21.6px;background:#e4e4e4"></div><div class="abs" style="left:1px;top:1.5px;width:9px;height:11px;background:#ececec"></div><div class="abs" style="left:1px;top:12.5px;width:9px;height:10.6px;background:#e2e2e2"></div><div class="abs" style="left:10px;top:1.5px;width:9px;height:11px;background:#dcdcdc"></div><div class="abs" style="left:10px;top:12.5px;width:9px;height:10.6px;background:#d4d4d4"></div><div class="abs" style="left:19px;top:1.5px;width:9px;height:11px;background:#d0d0d0"></div><div class="abs" style="left:19px;top:12.5px;width:9px;height:10.6px;background:#dadada"></div><div class="abs" style="left:28px;top:1.5px;width:9px;height:11px;background:#d8d8d8"></div><div class="abs" style="left:28px;top:12.5px;width:9px;height:10.6px;background:#cfcfcf"></div><div class="abs" style="left:37px;top:1.5px;width:9px;height:11px;background:#cbcbcb"></div><div class="abs" style="left:37px;top:12.5px;width:9px;height:10.6px;background:#d6d6d6"></div><div class="abs" style="left:46px;top:1.5px;width:9px;height:11px;background:#dedede"></div><div class="abs" style="left:46px;top:12.5px;width:9px;height:10.6px;background:#d2d2d2"></div><div class="abs" style="left:55px;top:1.5px;width:9px;height:11px;background:#d3d3d3"></div><div class="abs" style="left:55px;top:12.5px;width:9px;height:10.6px;background:#dcdcdc"></div><div class="abs" style="left:64px;top:1.5px;width:9px;height:11px;background:#e0e0e0"></div><div class="abs" style="left:64px;top:12.5px;width:9px;height:10.6px;background:#d5d5d5"></div><div class="abs" style="left:73px;top:1.5px;width:9px;height:11px;background:#e8e8e8"></div><div class="abs" style="left:73px;top:12.5px;width:9px;height:10.6px;background:#e4e4e4"></div><div class="abs" style="left:82px;top:1.5px;width:8px;height:11px;background:#f3f3f3"></div><div class="abs" style="left:82px;top:12.5px;width:8px;height:10.6px;background:#efefef"></div><div class="abs" style="left:90px;top:1.5px;width:8px;height:11px;background:#fafafa"></div><div class="abs" style="left:90px;top:12.5px;width:8px;height:10.6px;background:#f6f6f6"></div><div class="abs" style="left:98px;top:1.5px;width:9px;height:11px;background:#c2c2c2"></div><div class="abs" style="left:98px;top:12.5px;width:9px;height:10.6px;background:#b4b4b4"></div><div class="abs" style="left:107px;top:1.5px;width:9px;height:11px;background:#b9b9b9"></div><div class="abs" style="left:107px;top:12.5px;width:9px;height:10.6px;background:#c4c4c4"></div><div class="abs" style="left:116px;top:1.5px;width:9px;height:11px;background:#d2d2d2"></div><div class="abs" style="left:116px;top:12.5px;width:9px;height:10.6px;background:#cacaca"></div><div class="abs" style="left:125px;top:1.5px;width:9px;height:11px;background:#bcbcbc"></div><div class="abs" style="left:125px;top:12.5px;width:9px;height:10.6px;background:#c6c6c6"></div><div class="abs" style="left:134px;top:1.5px;width:9px;height:11px;background:#c9c9c9"></div><div class="abs" style="left:134px;top:12.5px;width:9px;height:10.6px;background:#bfbfbf"></div><div class="abs" style="left:143px;top:1.5px;width:9px;height:11px;background:#b8b8b8"></div><div class="abs" style="left:143px;top:12.5px;width:9px;height:10.6px;background:#c8c8c8"></div><div class="abs" style="left:152px;top:1.5px;width:9px;height:11px;background:#d6d6d6"></div><div class="abs" style="left:152px;top:12.5px;width:9px;height:10.6px;background:#cccccc"></div><div class="abs" style="left:161px;top:1.5px;width:8px;height:11px;background:#e6e6e6"></div><div class="abs" style="left:161px;top:12.5px;width:8px;height:10.6px;background:#e0e0e0"></div><div class="abs" style="left:169px;top:1.5px;width:9px;height:11px;background:#c8c8c8"></div><div class="abs" style="left:169px;top:12.5px;width:9px;height:10.6px;background:#d0d0d0"></div><div class="abs" style="left:178px;top:1.5px;width:9px;height:11px;background:#bdbdbd"></div><div class="abs" style="left:178px;top:12.5px;width:9px;height:10.6px;background:#c5c5c5"></div><div class="abs" style="left:187px;top:1.5px;width:9px;height:11px;background:#c4c4c4"></div><div class="abs" style="left:187px;top:12.5px;width:9px;height:10.6px;background:#bababa"></div><div class="abs" style="left:196px;top:1.5px;width:10px;height:11px;background:#d4d4d4"></div><div class="abs" style="left:196px;top:12.5px;width:10px;height:10.6px;background:#cdcdcd"></div></div>
<div class="abs" style="left:492.5px;top:373.1px;width:31.5px;height:0.8px;background:#b8b8b8"></div>
<div class="abs" style="left:535.0px;top:373.1px;width:10.0px;height:0.8px;background:#b8b8b8"></div>
<div class="abs" style="left:549.0px;top:373.1px;width:9.0px;height:0.8px;background:#b8b8b8"></div>
<div class="abs pg" style="left:425.5px;width:16.5px;background:#1fae91;border-color:#1fae91;color:#fff;font-weight:bold;border-radius:1.5px 0 0 1.5px;">1</div>
<div class="abs pg" style="left:441.0px;width:16.7px;">2</div>
<div class="abs pg" style="left:456.7px;width:16.7px;">3</div>
<div class="abs pg" style="left:472.4px;width:16.7px;">4</div>
<div class="abs pg" style="left:488.1px;width:16.8px;">5</div>
<div class="abs pg" style="left:503.9px;width:16.9px;">6</div>
<div class="abs pg" style="left:519.8px;width:16.7px;">7</div>
<div class="abs pg" style="left:535.5px;width:17.2px;">8</div>
<div class="abs pg" style="left:551.7px;width:16.6px;">9</div>
<div class="abs pg" style="left:567.3px;width:20.5px;">10</div>
<div class="abs pg" style="left:586.8px;width:20.2px;">11</div>
<div class="abs pg" style="left:606.0px;width:32.3px;">下一页</div>
<div class="abs pg" style="left:637.3px;width:18.6px;">12</div>
<div class="abs" style="left:604.6px;top:688.3px;width:71px;height:11.7px;background:#f1f6fc;border:1px solid #9dbade;border-radius:1.5px"></div>
<div class="abs" style="left:609px;top:690.3px;width:7.6px;height:7.6px;border:1px solid #6f8dbb;background:#a9bcd8;color:#f4f7fb;font-size:6px;font-weight:bold;line-height:5.6px;text-align:center">S</div>
<div class="abs" style="left:620px;top:689.6px;color:#3d5c8e;font-size:7.5px;font-weight:bold;line-height:9px;white-space:nowrap">中</div>
<div class="abs" style="left:631.5px;top:690.8px;width:6px;height:6px;border-radius:3px;box-shadow:inset -1.8px -1px 0 0.3px #3d5c8e"></div>
<div class="abs" style="left:641.5px;top:690px;color:#7f96b8;font-size:7px;font-weight:bold;line-height:8px;white-space:nowrap">,,</div>
<div class="abs" style="left:650px;top:692.2px;width:7.5px;height:4.6px;background:#3d5c8e;border-radius:0.8px"></div>
<div class="abs" style="left:661px;top:691px;width:5.6px;height:5.6px;border-radius:3px;border:1.3px solid #3d5c8e"></div>
<div class="abs" style="left:669.5px;top:690.6px;width:2px;height:7px;background:#3d5c8e;transform:rotate(35deg)"></div>
</div>
</body></html>
